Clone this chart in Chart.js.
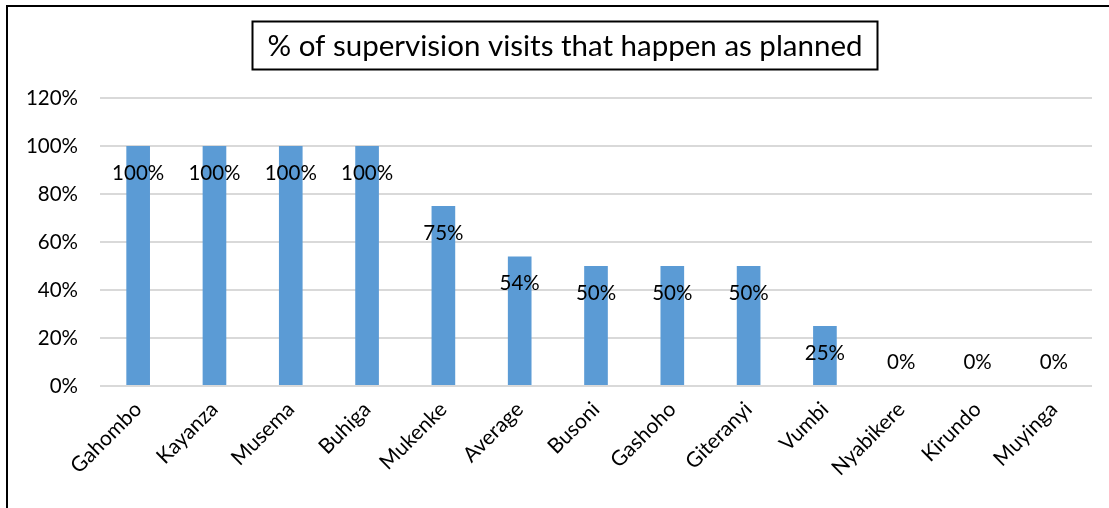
<!DOCTYPE html>
<html>
<head>
<meta charset="utf-8">
<script src="https://cdn.jsdelivr.net/npm/chart.js@4.4.1/dist/chart.umd.min.js"></script>
<style>
  html, body { margin: 0; padding: 0; background: #fff; overflow: hidden; }
  #wrap { position: relative; width: 1109px; height: 508px; }
  #frame { position: absolute; left: 6px; top: 5px; width: 1200px; height: 600px;
           border-left: 2px solid #000; border-top: 2px solid #000; }
  canvas { position: absolute; left: 0; top: 0; }
</style>
</head>
<body>
<div id="wrap">
  <div id="frame"></div>
  <canvas id="chart" width="1109" height="508"></canvas>
</div>
<script>
const titleText = '% of supervision visits that happen as planned';
const districts = ['Gahombo','Kayanza','Musema','Buhiga','Mukenke','Average','Busoni',
                   'Gashoho','Giteranyi','Vumbi','Nyabikere','Kirundo','Muyinga'];
const pctPlanned = [100, 100, 100, 100, 75, 54, 50, 50, 50, 25, 0, 0, 0];
const yTicks = [0, 20, 40, 60, 80, 100, 120];

const FONT = 'Lato, "Open Sans", sans-serif';

// boxed title above the plot
const boxedTitle = {
  id: 'boxedTitle',
  afterDraw(chart) {
    const ctx = chart.ctx;
    ctx.save();
    ctx.font = '29.5px ' + FONT;
    ctx.fillStyle = '#000';
    ctx.textAlign = 'center';
    ctx.textBaseline = 'middle';
    const cx = 565, cy = 45;
    const w = ctx.measureText(titleText).width;
    ctx.fillText(titleText, cx, cy + 1);
    ctx.lineWidth = 2;
    ctx.strokeStyle = '#000';
    ctx.strokeRect(Math.round(cx - w / 2 - 15) + 0.5, 21.5, Math.round(w + 30), 48);
    ctx.restore();
  }
};

// value labels just inside the top of each bar
const barLabels = {
  id: 'barLabels',
  afterDatasetsDraw(chart) {
    const ctx = chart.ctx;
    const meta = chart.getDatasetMeta(0);
    ctx.save();
    ctx.font = '20.5px ' + FONT;
    ctx.fillStyle = '#000';
    ctx.textAlign = 'center';
    ctx.textBaseline = 'middle';
    meta.data.forEach((bar, i) => {
      const y = Math.min(bar.y + 27, bar.base - 24);
      ctx.fillText(pctPlanned[i] + '%', bar.x, y);
    });
    ctx.restore();
  }
};

new Chart(document.getElementById('chart'), {
  type: 'bar',
  data: {
    labels: districts,
    datasets: [{
      data: pctPlanned,
      backgroundColor: '#5B9BD5',
      barPercentage: 0.62,
      categoryPercentage: 0.5
    }]
  },
  options: {
    responsive: false,
    animation: false,
    layout: { padding: { top: 98, right: 17, left: 0, bottom: 0 } },
    plugins: { legend: { display: false }, tooltip: { enabled: false }, title: { display: false } },
    scales: {
      x: {
        grid: { display: false },
        border: { display: false },
        ticks: { color: '#000', font: { family: FONT, size: 21 }, minRotation: 45, maxRotation: 45, padding: 3 },
        afterFit: s => { s.height = 122; }
      },
      y: {
        min: 0, max: 120,
        afterBuildTicks: s => { s.ticks = yTicks.map(v => ({ value: v })); },
        grid: { color: '#D9D9D9', lineWidth: 2, drawTicks: false },
        border: { display: false },
        ticks: { color: '#000', font: { family: FONT, size: 20.5 }, padding: 22,
                 callback: v => v + '%' },
        afterFit: s => { s.width = 100; }
      }
    }
  },
  plugins: [boxedTitle, barLabels]
});
</script>
</body>
</html>
